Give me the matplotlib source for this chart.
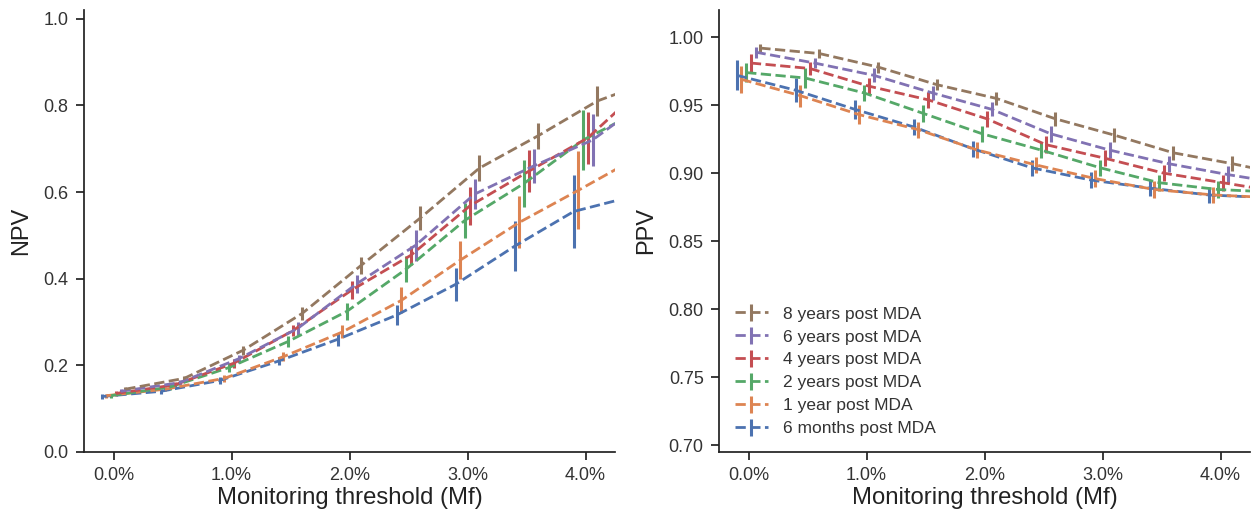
import numpy as np
import matplotlib.pyplot as plt
from matplotlib.ticker import FuncFormatter, FormatStrFormatter

plt.rcParams['font.family'] = ['Liberation Sans', 'DejaVu Sans']

# monitoring thresholds (%), one extra point past the visible range
thresholds = np.array([0.0, 0.5, 1.0, 1.5, 2.0, 2.5, 3.0, 3.5, 4.0, 4.5])

labels = ["6 months post MDA", "1 year post MDA", "2 years post MDA",
          "4 years post MDA", "6 years post MDA", "8 years post MDA"]
colors = ["#4C72B0", "#DD8452", "#55A868", "#C44E52", "#8172B3", "#937860"]
dodge = [-0.10, -0.06, -0.02, 0.02, 0.06, 0.10]

# NPV (left)
npv_6m = [0.128, 0.140, 0.165, 0.210, 0.260, 0.316, 0.387, 0.475, 0.555, 0.59]
npv_1y = [0.130, 0.145, 0.170, 0.220, 0.277, 0.350, 0.443, 0.530, 0.604, 0.68]
npv_2y = [0.130, 0.150, 0.195, 0.255, 0.325, 0.422, 0.535, 0.620, 0.720, 0.79]
npv_4y = [0.135, 0.155, 0.205, 0.280, 0.374, 0.454, 0.568, 0.648, 0.725, 0.85]
npv_6y = [0.140, 0.160, 0.215, 0.285, 0.388, 0.477, 0.595, 0.660, 0.720, 0.82]
npv_8y = [0.145, 0.170, 0.235, 0.320, 0.431, 0.540, 0.655, 0.730, 0.810, 0.86]

npv_err_6m = [0.005, 0.005, 0.008, 0.010, 0.015, 0.023, 0.038, 0.058, 0.085, 0.09]
npv_err_1y = [0.005, 0.005, 0.008, 0.010, 0.015, 0.030, 0.043, 0.060, 0.090, 0.09]
npv_err_2y = [0.005, 0.006, 0.010, 0.012, 0.020, 0.030, 0.040, 0.055, 0.070, 0.07]
npv_err_4y = [0.005, 0.006, 0.010, 0.012, 0.020, 0.022, 0.044, 0.048, 0.060, 0.06]
npv_err_6y = [0.005, 0.006, 0.010, 0.015, 0.020, 0.036, 0.035, 0.040, 0.060, 0.06]
npv_err_8y = [0.005, 0.006, 0.010, 0.015, 0.020, 0.027, 0.030, 0.030, 0.035, 0.04]

# PPV (right)
ppv_6m = [0.972, 0.961, 0.947, 0.934, 0.918, 0.904, 0.895, 0.889, 0.884, 0.882]
ppv_1y = [0.969, 0.957, 0.943, 0.932, 0.917, 0.906, 0.896, 0.888, 0.884, 0.882]
ppv_2y = [0.974, 0.970, 0.959, 0.944, 0.929, 0.917, 0.904, 0.893, 0.888, 0.886]
ppv_4y = [0.981, 0.977, 0.964, 0.954, 0.940, 0.921, 0.911, 0.900, 0.893, 0.886]
ppv_6y = [0.989, 0.981, 0.972, 0.959, 0.947, 0.929, 0.917, 0.907, 0.899, 0.892]
ppv_8y = [0.992, 0.988, 0.978, 0.965, 0.955, 0.940, 0.928, 0.915, 0.907, 0.898]

ppv_err_6m = [0.011, 0.009, 0.007, 0.006, 0.006, 0.006, 0.006, 0.006, 0.006, 0.006]
ppv_err_1y = [0.010, 0.008, 0.007, 0.006, 0.006, 0.006, 0.006, 0.006, 0.006, 0.006]
ppv_err_2y = [0.007, 0.007, 0.006, 0.006, 0.006, 0.006, 0.006, 0.006, 0.006, 0.006]
ppv_err_4y = [0.007, 0.005, 0.006, 0.006, 0.006, 0.006, 0.006, 0.006, 0.006, 0.006]
ppv_err_6y = [0.004, 0.004, 0.005, 0.005, 0.005, 0.006, 0.006, 0.006, 0.006, 0.006]
ppv_err_8y = [0.003, 0.003, 0.004, 0.004, 0.005, 0.005, 0.005, 0.005, 0.0055, 0.006]

npv = [npv_6m, npv_1y, npv_2y, npv_4y, npv_6y, npv_8y]
npv_err = [npv_err_6m, npv_err_1y, npv_err_2y, npv_err_4y, npv_err_6y, npv_err_8y]
ppv = [ppv_6m, ppv_1y, ppv_2y, ppv_4y, ppv_6y, ppv_8y]
ppv_err = [ppv_err_6m, ppv_err_1y, ppv_err_2y, ppv_err_4y, ppv_err_6y, ppv_err_8y]

fig = plt.figure(figsize=(12.57, 5.13), dpi=100)
ax1 = fig.add_axes([84 / 1257, 61 / 513, 531 / 1257, 442 / 513])
ax2 = fig.add_axes([719 / 1257, 61 / 513, 531 / 1257, 442 / 513])


def draw(ax, values, errors):
    for vals, errs, lab, col, dx in zip(values, errors, labels, colors, dodge):
        ax.errorbar(thresholds + dx, vals, yerr=errs, color=col, ls='--',
                    lw=2, elinewidth=2.2, capsize=0, label=lab)
    ax.set_xlim(-0.25, 4.25)
    ax.set_xticks([0, 1, 2, 3, 4])
    ax.xaxis.set_major_formatter(FuncFormatter(lambda v, p: f"{v:.1f}%"))
    ax.set_xlabel("Monitoring threshold (Mf)", fontsize=17.2, labelpad=2,
                  color='#222222')
    for s in ['top', 'right']:
        ax.spines[s].set_visible(False)
    for s in ['left', 'bottom']:
        ax.spines[s].set_linewidth(1.25)
        ax.spines[s].set_color('#222222')
    ax.tick_params(direction='out', length=6, width=1.25, labelsize=13,
                   pad=5, color='#222222', labelcolor='#333333')


draw(ax1, npv, npv_err)
ax1.set_ylim(0, 1.02)
ax1.set_yticks([0.0, 0.2, 0.4, 0.6, 0.8, 1.0])
ax1.yaxis.set_major_formatter(FormatStrFormatter('%.1f'))
ax1.set_ylabel("NPV", fontsize=17, labelpad=8, color='#222222')

draw(ax2, ppv, ppv_err)
ax2.set_ylim(0.695, 1.02)
ax2.set_yticks([0.70, 0.75, 0.80, 0.85, 0.90, 0.95, 1.00])
ax2.yaxis.set_major_formatter(FormatStrFormatter('%.2f'))
ax2.set_ylabel("PPV", fontsize=17, labelpad=8, color='#222222')

handles, labs = ax2.get_legend_handles_labels()
ax2.legend(handles[::-1], labs[::-1], loc='lower left', frameon=False,
           fontsize=12.5, handlelength=1.9, handletextpad=0.9,
           labelspacing=0.45, bbox_to_anchor=(0.0, 0.0), labelcolor='#333333')

fig.savefig("out.png", dpi=100)
